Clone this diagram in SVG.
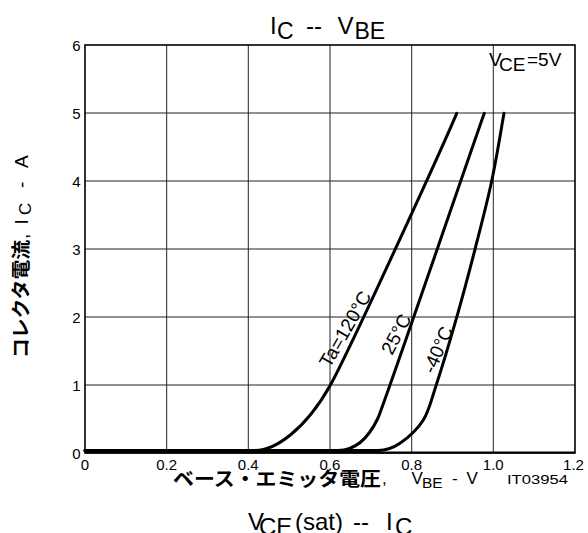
<svg xmlns="http://www.w3.org/2000/svg" width="588" height="533" viewBox="0 0 588 533">
<style>
.t{font-family:"Liberation Sans",Arial,sans-serif;fill:#000}
.jp{font-family:"Noto Sans CJK JP","Liberation Sans",sans-serif;font-weight:bold;fill:#000}
.tick{font-size:15px}
.grid{stroke:#222;stroke-width:1;fill:none}
.curve{stroke:#000;stroke-width:3;fill:none;stroke-linejoin:round;stroke-linecap:round}
</style>
<rect width="588" height="533" fill="#fff"/>
<g id="title">
<text class="t" y="34.3" font-size="24"><tspan x="270">I</tspan><tspan x="277" y="38.5" font-size="23">C</tspan><tspan x="306" y="34.3">--</tspan><tspan x="337.5">V</tspan><tspan x="354.5" y="38.5" font-size="23">BE</tspan></text>
</g>
<g id="grid">
<path class="grid" d="M166.7,45V453M248.3,45V453M330,45V453M411.7,45V453M493.3,45V453M85,113H575M85,181H575M85,249H575M85,317H575M85,385H575"/>
<rect x="85" y="45" width="490" height="408" fill="none" stroke="#000" stroke-width="1.6"/>
<line x1="85" y1="452.5" x2="575" y2="452.5" stroke="#000" stroke-width="2"/>
</g>
<g id="yticks" class="t tick" text-anchor="end">
<text x="80.5" y="50.5">6</text>
<text x="80.5" y="118.5">5</text>
<text x="80.5" y="186.5">4</text>
<text x="80.5" y="254.5">3</text>
<text x="80.5" y="322.5">2</text>
<text x="80.5" y="390.5">1</text>
<text x="80.5" y="458.5">0</text>
</g>
<g id="xticks" class="t tick" text-anchor="middle">
<text x="85" y="470">0</text>
<text x="166.7" y="470">0.2</text>
<text x="248.3" y="470">0.4</text>
<text x="330" y="470">0.6</text>
<text x="411.7" y="470">0.8</text>
<text x="493.3" y="470">1.0</text>
<text x="573.5" y="470">1.2</text>
</g>
<g id="curves">
<path id="c120" class="curve" d="M85,450.5H255C275,450.5 305,430 330,385.7C347,356 443,146 456.7,113.3"/>
<path id="c25" class="curve" d="M85,450.5H338C356,450.5 369,437 378,418C383.5,406.5 477,133 484.3,113.3"/>
<path id="cm40" class="curve" d="M85,450.5H378C386.3,450.5 392.5,448.4 400,443.3C407.2,438.3 417.3,429.6 423.3,420C429.3,410.4 430.4,402.8 436,385.7C441.6,368.6 450.2,340 456.7,317.3C463.2,294.6 469.2,272 475,249.3C480.8,226.6 486.9,203.7 491.7,181C496.5,158.3 500,136 504,113.3"/>
</g>
<g id="curve-labels" class="t" font-size="19" text-anchor="middle">
<text transform="translate(350.9,332.4) rotate(-60)">Ta=120°C</text>
<text transform="translate(402,337.2) rotate(-62)">25°C</text>
<text transform="translate(443.8,352.2) rotate(-67)">-40°C</text>
</g>
<g id="vce-label">
<text class="t" y="66" font-size="19"><tspan x="489">V</tspan><tspan x="499" y="71">CE</tspan><tspan x="527" y="66">=5V</tspan></text>
</g>
<g id="xlabel">
<text class="jp" x="173" y="485.5" font-size="19" textLength="208" lengthAdjust="spacingAndGlyphs">ベース・エミッタ電圧</text>
<text class="t" y="484" font-size="17"><tspan x="382">,</tspan><tspan x="411.5">V</tspan><tspan x="422" y="488" font-size="15.5">BE</tspan><tspan x="452" y="484">-</tspan><tspan x="466.5">V</tspan></text>
<text class="t" x="507" y="483.5" font-size="12.5" textLength="61" lengthAdjust="spacingAndGlyphs">IT03954</text>
</g>
<g id="ylabel" transform="translate(28,358) rotate(-90)">
<text class="jp" x="0" y="0" font-size="19" textLength="118" lengthAdjust="spacingAndGlyphs">コレクタ電流</text>
<text class="t" y="0" font-size="19"><tspan x="119">,</tspan><tspan x="133.5">I</tspan><tspan x="143" y="3" font-size="17">C</tspan><tspan x="170" y="0">-</tspan><tspan x="190">A</tspan></text>
</g>
<g id="subtitle">
<text class="t" y="530" font-size="24"><tspan x="248">V</tspan><tspan x="259" y="535">CE</tspan><tspan x="295" y="530">(sat)</tspan><tspan x="353">--</tspan><tspan x="386">I</tspan><tspan x="395" y="535">C</tspan></text>
</g>
</svg>
